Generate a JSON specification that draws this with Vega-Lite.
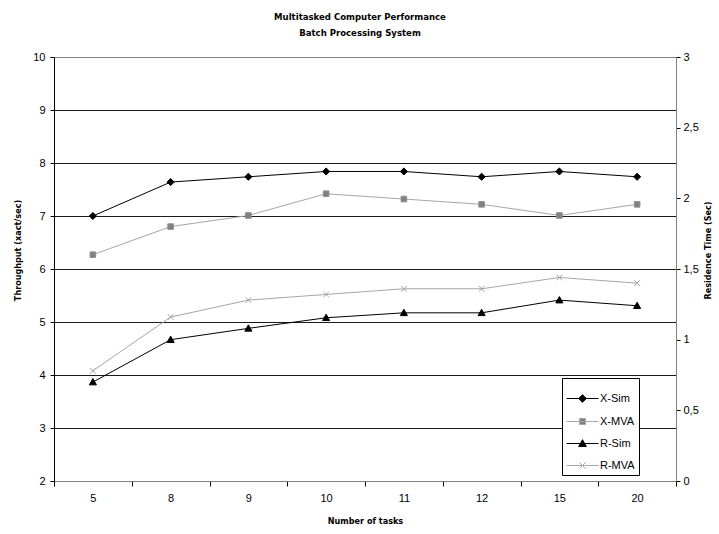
{
  "$schema": "https://vega.github.io/schema/vega-lite/v6.json",
  "width": 622,
  "height": 424,
  "autosize": {"type": "none"},
  "padding": {"left": 54, "top": 57, "right": 43, "bottom": 53},
  "background": "white",
  "title": {
    "text": ["Multitasked Computer Performance", "Batch Processing System"],
    "font": "DejaVu Sans Condensed, Liberation Sans, sans-serif",
    "fontWeight": "bold",
    "fontSize": 9.5,
    "lineHeight": 16,
    "offset": 14,
    "anchor": "middle",
    "frame": "group",
    "dx": -5,
    "color": "#000"
  },
  "data": {
    "values": [
      {"series": "X-Sim", "tasks": 5, "value": 7.0},
      {"series": "X-Sim", "tasks": 8, "value": 7.64},
      {"series": "X-Sim", "tasks": 9, "value": 7.74},
      {"series": "X-Sim", "tasks": 10, "value": 7.84},
      {"series": "X-Sim", "tasks": 11, "value": 7.84},
      {"series": "X-Sim", "tasks": 12, "value": 7.74},
      {"series": "X-Sim", "tasks": 15, "value": 7.84},
      {"series": "X-Sim", "tasks": 20, "value": 7.74},
      {"series": "X-MVA", "tasks": 5, "value": 6.27},
      {"series": "X-MVA", "tasks": 8, "value": 6.8},
      {"series": "X-MVA", "tasks": 9, "value": 7.01},
      {"series": "X-MVA", "tasks": 10, "value": 7.42},
      {"series": "X-MVA", "tasks": 11, "value": 7.32},
      {"series": "X-MVA", "tasks": 12, "value": 7.22},
      {"series": "X-MVA", "tasks": 15, "value": 7.01},
      {"series": "X-MVA", "tasks": 20, "value": 7.22},
      {"series": "R-Sim", "tasks": 5, "value": 0.7},
      {"series": "R-Sim", "tasks": 8, "value": 1.0},
      {"series": "R-Sim", "tasks": 9, "value": 1.08},
      {"series": "R-Sim", "tasks": 10, "value": 1.155},
      {"series": "R-Sim", "tasks": 11, "value": 1.19},
      {"series": "R-Sim", "tasks": 12, "value": 1.19},
      {"series": "R-Sim", "tasks": 15, "value": 1.28},
      {"series": "R-Sim", "tasks": 20, "value": 1.24},
      {"series": "R-MVA", "tasks": 5, "value": 0.78},
      {"series": "R-MVA", "tasks": 8, "value": 1.16},
      {"series": "R-MVA", "tasks": 9, "value": 1.28},
      {"series": "R-MVA", "tasks": 10, "value": 1.32},
      {"series": "R-MVA", "tasks": 11, "value": 1.36},
      {"series": "R-MVA", "tasks": 12, "value": 1.36},
      {"series": "R-MVA", "tasks": 15, "value": 1.44},
      {"series": "R-MVA", "tasks": 20, "value": 1.4}
    ]
  },
  "encoding": {
    "x": {
      "field": "tasks",
      "type": "ordinal",
      "scale": {"type": "band", "paddingInner": 0, "paddingOuter": 0},
      "axis": {
        "title": "Number of tasks",
        "labelAngle": 0,
        "tickBand": "extent",
        "tickSize": 5,
        "tickColor": "#000",
        "domainColor": "#808080",
        "labelPadding": 6,
        "titlePadding": 13,
        "grid": false
      }
    }
  },
  "layer": [
    {
      "transform": [{"filter": "datum.series == 'X-Sim' || datum.series == 'X-MVA'"}],
      "encoding": {
        "y": {
          "field": "value",
          "type": "quantitative",
          "scale": {"domain": [2, 10], "nice": false, "zero": false},
          "axis": {
            "title": "Throughput (xact/sec)",
            "values": [2, 3, 4, 5, 6, 7, 8, 9, 10],
            "grid": true,
            "gridColor": {"condition": {"test": "datum.value == 10", "value": "#808080"}, "value": "#1a1a1a"},
            "gridWidth": 1,
            "domainColor": "#000",
            "tickColor": "#000",
            "tickSize": 4,
            "labelPadding": 5,
            "titlePadding": 10,
            "titleY": 193
          }
        }
      },
      "layer": [
        {
          "mark": {"type": "line", "strokeWidth": 1},
          "encoding": {
            "stroke": {
              "field": "series",
              "type": "nominal",
              "scale": {"domain": ["X-Sim", "X-MVA", "R-Sim", "R-MVA"], "range": ["#000000", "#a6a6a6", "#000000", "#a6a6a6"]},
              "legend": {
                "title": null,
                "orient": "none",
                "legendX": 508,
                "legendY": 321,
                "symbolType": {"expr": "datum.value === 'X-Sim' ? 'M-1,0H1M0,-0.24L0.24,0L0,0.24L-0.24,0Z' : datum.value === 'X-MVA' ? 'M-1,0H1M-0.19,-0.19H0.19V0.19H-0.19Z' : datum.value === 'R-Sim' ? 'M-1,0H1M0,-0.24L0.24,0.19H-0.24Z' : 'M-1,0H1M-0.19,-0.19L0.19,0.19M-0.19,0.19L0.19,-0.19'"},
                "symbolFillColor": {"expr": "datum.value === 'X-MVA' ? '#808080' : datum.value === 'R-MVA' ? 'transparent' : '#000000'"},
                "symbolSize": 1024,
                "symbolStrokeWidth": 1
              }
            }
          }
        },
        {
          "mark": {"type": "point", "filled": false, "size": 56, "opacity": 1, "strokeWidth": 1},
          "encoding": {
            "color": {"condition": {"test": "datum.series === 'X-MVA'", "value": "#909090"}, "value": "#000000"},
            "shape": {"condition": {"test": "datum.series === 'X-Sim'", "value": "M0,-0.95L0.95,0L0,0.95L-0.95,0Z"}, "value": "M-0.75,-0.75H0.75V0.75H-0.75Z"},
            "fill": {"condition": {"test": "datum.series === 'X-MVA'", "value": "#808080"}, "value": "#000000"}
          }
        }
      ]
    },
    {
      "transform": [{"filter": "datum.series == 'R-Sim' || datum.series == 'R-MVA'"}],
      "encoding": {
        "y": {
          "field": "value",
          "type": "quantitative",
          "scale": {"domain": [0, 3], "nice": false},
          "axis": {
            "orient": "right",
            "title": "Residence Time (Sec)",
            "titleAngle": -90,
            "values": [0, 0.5, 1, 1.5, 2, 2.5, 3],
            "labelExpr": "replace(toString(datum.value), '.', ',')",
            "grid": false,
            "domainColor": "#808080",
            "tickColor": "#000",
            "tickSize": 4,
            "labelPadding": 3,
            "titlePadding": 14,
            "titleY": 193
          }
        }
      },
      "layer": [
        {
          "mark": {"type": "line", "strokeWidth": 1},
          "encoding": {
            "stroke": {"field": "series", "type": "nominal"}
          }
        },
        {
          "mark": {"type": "point", "filled": false, "size": 56, "opacity": 1, "strokeWidth": 1},
          "encoding": {
            "color": {"condition": {"test": "datum.series === 'R-MVA'", "value": "#a0a0a0"}, "value": "#000000"},
            "shape": {"condition": {"test": "datum.series === 'R-Sim'", "value": "M0,-0.95L0.95,0.75H-0.95Z"}, "value": "M-0.75,-0.75L0.75,0.75M-0.75,0.75L0.75,-0.75"},
            "fill": {"condition": {"test": "datum.series === 'R-MVA'", "value": "transparent"}, "value": "#000000"}
          }
        }
      ]
    }
  ],
  "resolve": {"scale": {"y": "independent"}},
  "config": {
    "view": {"stroke": "#808080", "strokeWidth": 1},
    "axis": {
      "labelFont": "Liberation Sans",
      "labelFontSize": 11,
      "labelColor": "#000",
      "titleFont": "DejaVu Sans Condensed, Liberation Sans, sans-serif",
      "titleFontWeight": "bold",
      "titleFontSize": 9,
      "titleColor": "#000"
    },
    "legend": {
      "padding": 4,
      "strokeColor": "#000",
      "fillColor": "#ffffff",
      "labelFont": "Liberation Sans",
      "labelFontSize": 11,
      "labelColor": "#000",
      "labelOffset": 1,
      "rowPadding": -3
    }
  }
}
